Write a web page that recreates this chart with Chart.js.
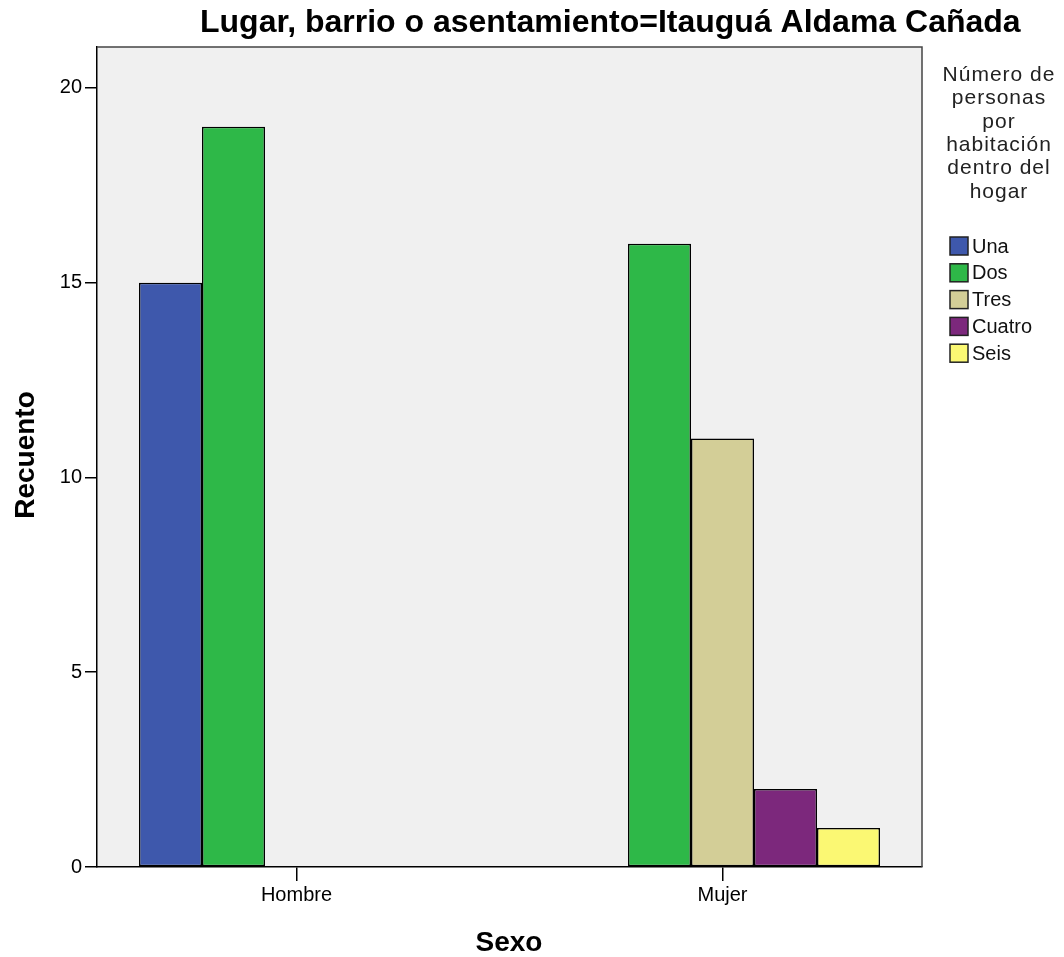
<!DOCTYPE html>
<html>
<head>
<meta charset="utf-8">
<script src="https://cdn.jsdelivr.net/npm/chart.js@4.4.1/dist/chart.umd.min.js"></script>
<style>
  body { margin: 0; background: #fff; }
  canvas { display: block; }
</style>
</head>
<body>
<canvas id="chart" width="1064" height="957"></canvas>
<script>
// datos
const categories = ['Hombre', 'Mujer'];
const seriesNames = ['Una', 'Dos', 'Tres', 'Cuatro', 'Seis'];
const una = [15, 0];
const dos = [19, 16];
const tres = [0, 11];
const cuatro = [0, 2];
const seis = [0, 1];
const yTicks = [0, 5, 10, 15, 20];

const seriesValues = [una, dos, tres, cuatro, seis];
const seriesColors = ['#3E58AC', '#2EB848', '#D3CE97', '#7C287C', '#FBF873'];

const chartTitle = 'Lugar, barrio o asentamiento=Itauguá Aldama Cañada';
const legendTitle = ['Número de', 'personas', 'por', 'habitación', 'dentro del', 'hogar'];
const xTitle = 'Sexo';
const yTitle = 'Recuento';

const FONT = '"Liberation Sans", Arial, sans-serif';

// fondo gris, borde y textos al estilo SPSS
const decorPlugin = {
    id: 'decor',
    beforeDraw(chart) {
        const { ctx, chartArea: a } = chart;
        ctx.save();
        ctx.fillStyle = '#F0F0F0';
        ctx.fillRect(a.left, a.top, a.right - a.left, a.bottom - a.top);
        ctx.restore();
    },
    afterDraw(chart) {
        const { ctx, chartArea: a } = chart;
        ctx.save();
        // borde superior y derecho
        ctx.strokeStyle = '#444';
        ctx.lineWidth = 1.5;
        ctx.beginPath();
        ctx.moveTo(a.left, a.top);
        ctx.lineTo(a.right, a.top);
        ctx.lineTo(a.right, a.bottom);
        ctx.stroke();

        ctx.fillStyle = '#000';
        // titulo
        ctx.font = 'bold 32px ' + FONT;
        ctx.textAlign = 'left';
        ctx.textBaseline = 'middle';
        ctx.fillText(chartTitle, 200, 23);

        // titulos de ejes
        ctx.font = 'bold 28px ' + FONT;
        ctx.textAlign = 'center';
        ctx.fillText(xTitle, 509, 943);
        ctx.save();
        ctx.translate(26, 455);
        ctx.rotate(-Math.PI / 2);
        ctx.fillText(yTitle, 0, 0);
        ctx.restore();

        // leyenda
        ctx.fillStyle = '#222';
        ctx.font = '21px ' + FONT;
        ctx.letterSpacing = '1px';
        legendTitle.forEach((t, i) => {
            ctx.fillText(t, 999, 75 + i * 23.4);
        });
        ctx.letterSpacing = '0px';
        ctx.font = '20px ' + FONT;
        ctx.textAlign = 'left';
        chart.data.datasets.forEach((ds, i) => {
            const cy = 246 + i * 26.8;
            ctx.fillStyle = ds.backgroundColor;
            ctx.fillRect(950, cy - 9, 18, 18);
            ctx.strokeStyle = '#222';
            ctx.lineWidth = 1.5;
            ctx.strokeRect(950, cy - 9, 18, 18);
            ctx.fillStyle = '#111';
            ctx.fillText(ds.label, 972, cy + 1);
        });
        ctx.restore();
    }
};

const datasets = seriesNames.map((name, s) => ({
    label: name,
    data: seriesValues[s].map((v, i) => ({ x: i, y: v === 0 ? null : v })),
    backgroundColor: seriesColors[s],
    borderColor: '#000',
    borderWidth: 1.5,
    borderSkipped: false,
    categoryPercentage: 0.7394,
    barPercentage: 1
}));

new Chart(document.getElementById('chart'), {
    type: 'bar',
    data: { datasets: datasets },
    options: {
        responsive: false,
        animation: false,
        devicePixelRatio: 1,
        layout: { padding: { left: 0, top: 47, right: 142, bottom: 0 } },
        plugins: {
            legend: { display: false },
            title: { display: false },
            tooltip: { enabled: false }
        },
        scales: {
            x: {
                type: 'linear',
                offset: false,
                min: -0.4683,
                max: 1.4683,
                afterBuildTicks: (s) => { s.ticks = categories.map((c, i) => ({ value: i })); },
                afterFit: (s) => { s.height = 90; },
                grid: { offset: false, drawOnChartArea: false, drawTicks: true, tickLength: 14, color: '#000', lineWidth: 1.5 },
                border: { display: true, color: '#000', width: 1.5 },
                ticks: {
                    color: '#000',
                    font: { family: FONT, size: 20 },
                    padding: 2,
                    maxRotation: 0,
                    autoSkip: false,
                    callback: (v) => categories[v]
                }
            },
            y: {
                min: 0,
                max: 21.05,
                afterBuildTicks: (s) => { s.ticks = yTicks.map(v => ({ value: v })); },
                afterFit: (s) => { s.width = 97; },
                grid: { drawOnChartArea: false, drawTicks: true, tickLength: 12, color: '#000', lineWidth: 1.5 },
                border: { display: true, color: '#000', width: 1.5 },
                ticks: {
                    color: '#000',
                    font: { family: FONT, size: 20 },
                    padding: 3
                }
            }
        }
    },
    plugins: [decorPlugin]
});
</script>
</body>
</html>
